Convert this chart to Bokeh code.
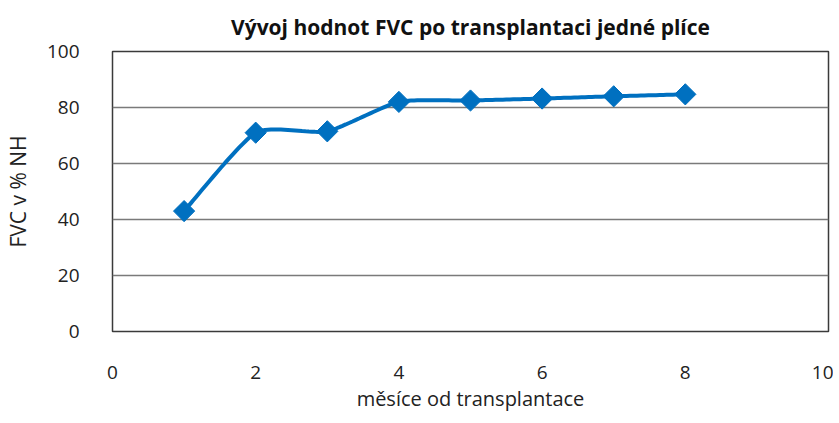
import numpy as np
from bokeh.plotting import figure
from bokeh.models import FixedTicker
from bokeh.embed import file_html
from bokeh.resources import INLINE

# ---- data ----
months = [1, 2, 3, 4, 5, 6, 7, 8]
fvc = [43, 71, 71.5, 82, 82.5, 83.2, 84, 84.7]
x_ticks = [0, 2, 4, 6, 8, 10]
y_ticks = [0, 20, 40, 60, 80, 100]
title_text = "Vývoj hodnot FVC po transplantaci jedné plíce"
x_label = "měsíce od transplantace"
y_label = "FVC v % NH"

FONT = "Open Sans"
BLUE = "#0070C0"


def smooth(xs, ys, n=24, k=10.0):
    """Smoothed line (cubic Bezier through the points)."""
    pts = np.column_stack([xs, ys]).astype(float)
    out = [pts[0]]
    m = len(pts)
    for i in range(m - 1):
        p0 = pts[max(i - 1, 0)]
        p1 = pts[i]
        p2 = pts[i + 1]
        p3 = pts[min(i + 2, m - 1)]
        c1 = p1 + (p2 - p0) / k
        c2 = p2 - (p3 - p1) / k
        t = np.linspace(0, 1, n + 1)[1:, None]
        seg = (1 - t) ** 3 * p1 + 3 * (1 - t) ** 2 * t * c1 + 3 * (1 - t) * t ** 2 * c2 + t ** 3 * p2
        out.extend(seg)
    out = np.array(out)
    return out[:, 0], out[:, 1]


p = figure(
    frame_width=716, frame_height=280,
    x_range=(0, 10), y_range=(0, 100),
    output_backend="svg", toolbar_location=None,
    min_border_left=102, min_border_right=5, min_border_top=0, min_border_bottom=0,
    title=title_text,
)
p.background_fill_color = "white"
p.border_fill_color = "white"
p.outline_line_color = "#3a3a3a"
p.outline_line_width = 1.5

p.title.text_font = FONT
p.title.text_font_style = "bold"
p.title.text_font_size = "21px"
p.title.align = "center"
p.title.text_color = "#111111"
p.title.standoff = 21

sx, sy = smooth(months, fvc)
p.line(sx, sy, line_color=BLUE, line_width=4)
p.scatter(months, fvc, marker="square", angle=np.pi / 4, size=15,
          fill_color=BLUE, line_color=BLUE)

p.xaxis.ticker = FixedTicker(ticks=x_ticks)
p.yaxis.ticker = FixedTicker(ticks=y_ticks)
for ax in (p.xaxis[0], p.yaxis[0]):
    ax.major_tick_line_color = None
    ax.minor_tick_line_color = None
    ax.axis_line_color = None
    ax.major_label_text_font = FONT
    ax.major_label_text_font_size = "19px"
    ax.major_label_text_color = "#222222"
    ax.axis_label_text_font = FONT
    ax.axis_label_text_font_size = "21px"
    ax.axis_label_text_font_style = "normal"
    ax.axis_label_text_color = "#222222"

p.xaxis.axis_label = x_label
p.xaxis.axis_label_text_font_size = "20px"
p.yaxis.axis_label = y_label
p.xaxis.major_label_standoff = 28
p.yaxis.major_label_standoff = 27
p.xaxis.axis_label_standoff = 3
p.yaxis.axis_label_standoff = 12

p.xgrid.grid_line_color = None
p.ygrid.grid_line_color = "#7a7a7a"
p.ygrid.grid_line_width = 1.5

open("out.html", "w").write(file_html(p, INLINE))
